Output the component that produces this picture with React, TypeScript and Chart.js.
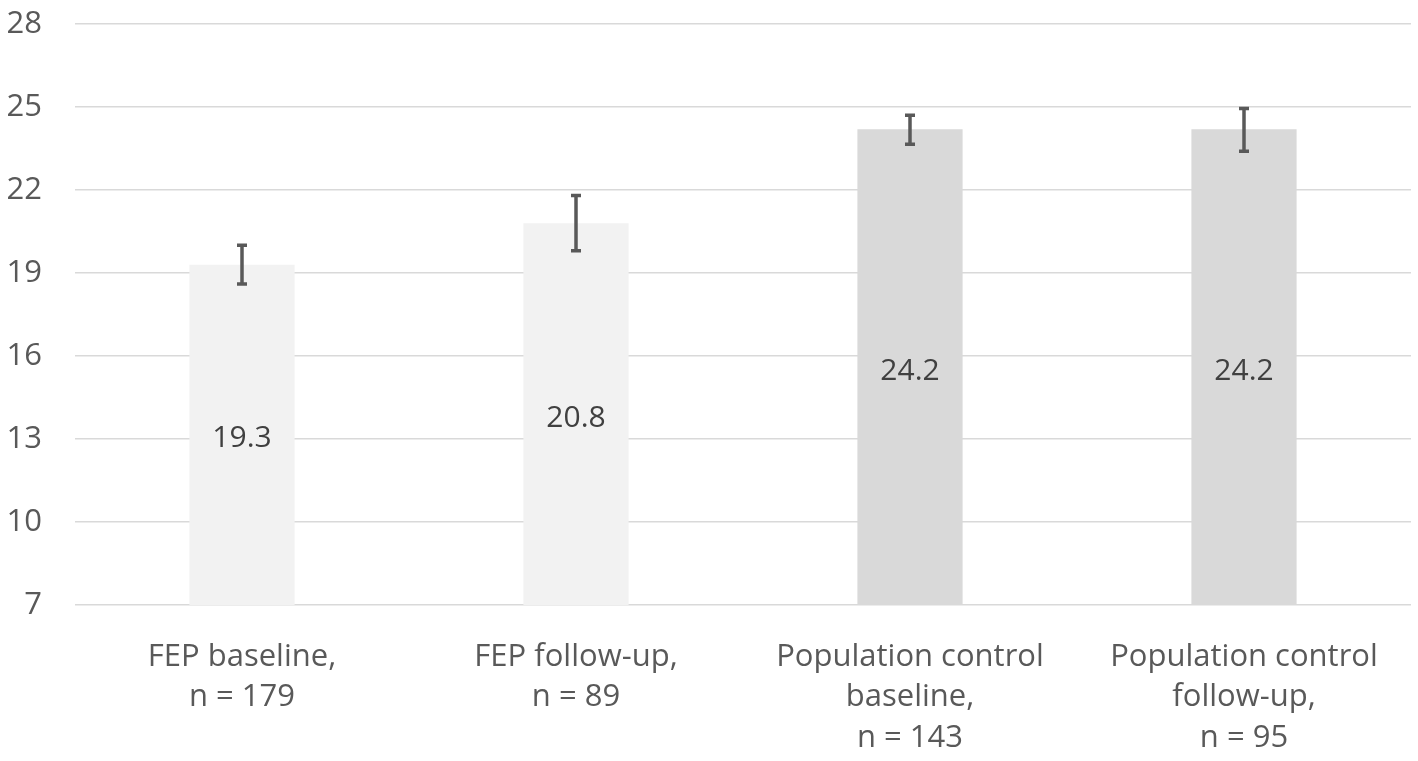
import { useRef, useEffect } from 'react'
import Chart from 'chart.js/auto'
import type { Plugin } from 'chart.js'

const categories = [
  ['FEP baseline,', 'n = 179'],
  ['FEP follow-up,', 'n = 89'],
  ['Population control', 'baseline,', 'n = 143'],
  ['Population control', 'follow-up,', 'n = 95'],
]
const means = [19.3, 20.8, 24.2, 24.2]
const errLow = [18.6, 19.8, 23.65, 23.4]
const errHigh = [20.0, 21.8, 24.7, 24.95]
const barColors = ['#f2f2f2', '#f2f2f2', '#d9d9d9', '#d9d9d9']

const FONT = '"Open Sans", sans-serif'

const errorBars: Plugin<'bar'> = {
  id: 'errorBars',
  afterDatasetsDraw(chart) {
    const { ctx, scales } = chart
    const y = scales.y
    const meta = chart.getDatasetMeta(0)
    ctx.save()
    // value labels in the middle of each bar
    ctx.fillStyle = '#404040'
    ctx.font = `30px ${FONT}`
    ctx.textAlign = 'center'
    ctx.textBaseline = 'middle'
    meta.data.forEach((bar: any, i: number) => {
      const mid = (y.getPixelForValue(means[i]) + y.getPixelForValue(y.min)) / 2
      ctx.fillText(means[i].toFixed(1), bar.x, mid + 4)
    })
    // error bars
    ctx.strokeStyle = '#595959'
    ctx.lineWidth = 3.5
    meta.data.forEach((bar: any, i: number) => {
      const top = y.getPixelForValue(errHigh[i])
      const bot = y.getPixelForValue(errLow[i])
      const x = bar.x
      ctx.beginPath()
      ctx.moveTo(x, top)
      ctx.lineTo(x, bot)
      ctx.moveTo(x - 5, top)
      ctx.lineTo(x + 5, top)
      ctx.moveTo(x - 5, bot)
      ctx.lineTo(x + 5, bot)
      ctx.stroke()
    })
    ctx.restore()
  },
}

export default function App() {
  const canvasRef = useRef<HTMLCanvasElement>(null)

  useEffect(() => {
    if (!canvasRef.current) return
    const chart = new Chart(canvasRef.current, {
      type: 'bar',
      data: {
        labels: categories,
        datasets: [
          {
            data: means,
            backgroundColor: barColors,
            barPercentage: 0.63,
            categoryPercentage: 0.5,
          },
        ],
      },
      options: {
        responsive: false,
        animation: false,
        layout: { padding: { top: 0, right: 7, left: 0, bottom: 0 } },
        plugins: { legend: { display: false }, tooltip: { enabled: false } },
        scales: {
          x: {
            grid: { display: false },
            border: { display: false },
            ticks: {
              color: '#595959',
              font: { family: FONT, size: 31, lineHeight: 1.3 },
              padding: 24,
              maxRotation: 0,
              autoSkip: false,
            },
            afterFit(scale) {
              scale.height = 156
            },
          },
          y: {
            min: 7,
            max: 28,
            grid: { color: '#d9d9d9', lineWidth: 1.5, drawTicks: false },
            border: { display: false },
            ticks: {
              stepSize: 3,
              color: '#595959',
              font: { family: FONT, size: 31 },
              padding: 33,
            },
            afterFit(scale: any) {
              scale.width = 75
              scale.paddingTop = 24
              scale.paddingBottom = 20
            },
          },
        },
      },
      plugins: [errorBars],
    })
    return () => chart.destroy()
  }, [])

  return (
    <div style={{ position: 'fixed', left: 0, top: 0, width: 1418, height: 761, background: '#fff' }}>
      <canvas ref={canvasRef} width={1418} height={761} />
    </div>
  )
}
